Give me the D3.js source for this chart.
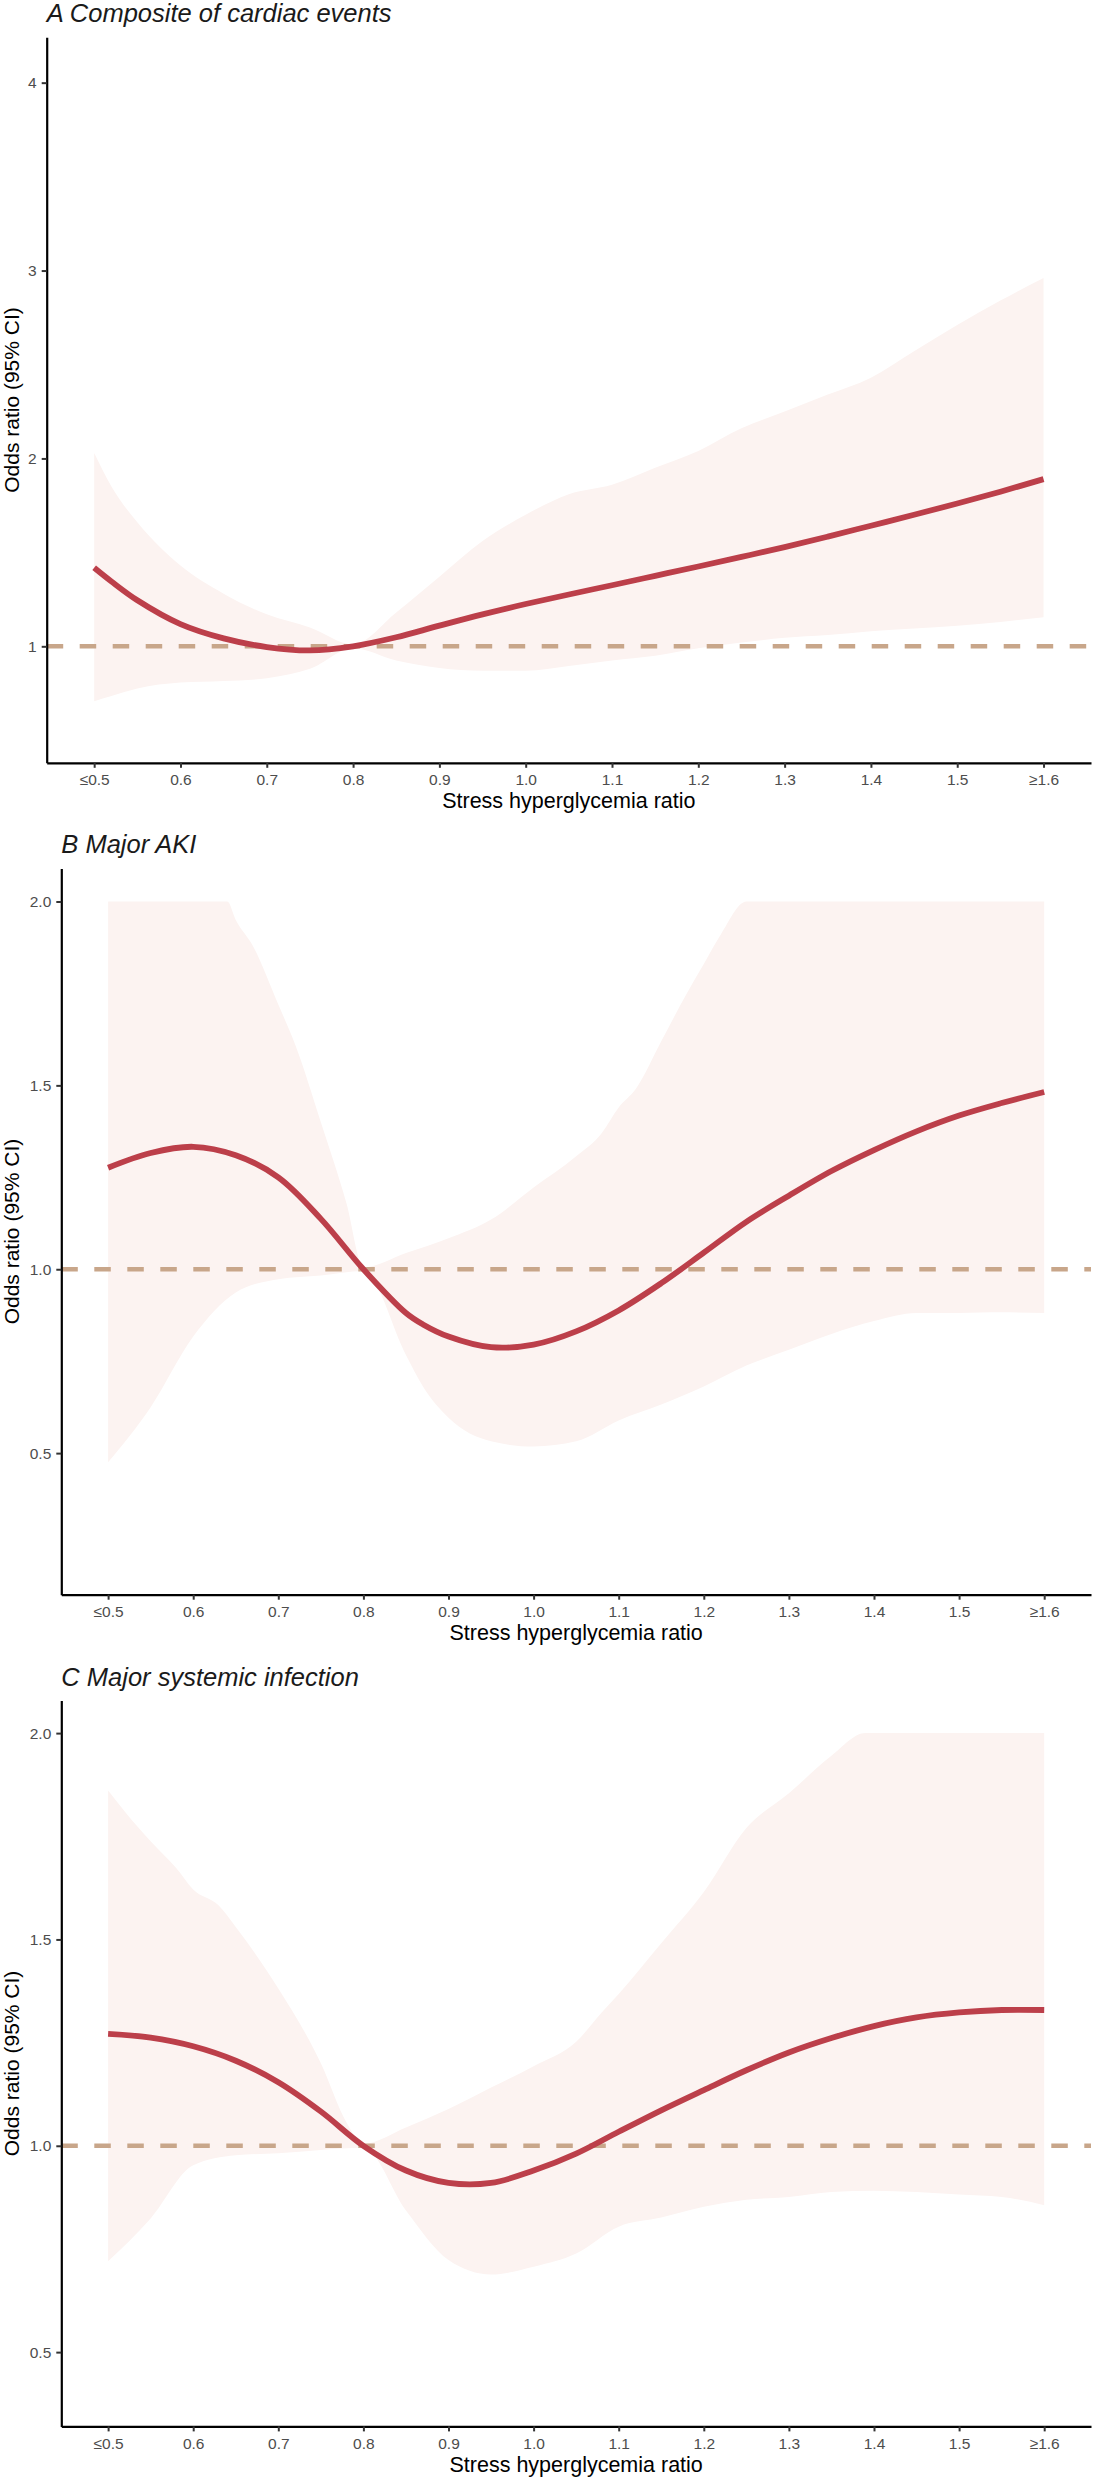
<!DOCTYPE html>
<html>
<head>
<meta charset="utf-8">
<script src="https://cdn.jsdelivr.net/npm/d3@7"></script>
<style>
  body { margin: 0; background: #ffffff; }
  text { font-family: "Liberation Sans", Arial, sans-serif; }
</style>
</head>
<body>
<svg id="chart"></svg>
<script>
// x axis (stress hyperglycemia ratio)
var xTicks = [0.5, 0.6, 0.7, 0.8, 0.9, 1.0, 1.1, 1.2, 1.3, 1.4, 1.5, 1.6]
var xTickLabels = ["≤0.5", "0.6", "0.7", "0.8", "0.9", "1.0", "1.1", "1.2", "1.3", "1.4", "1.5", "≥1.6"]

// A: composite of cardiac events
var cardiacX = [0.5, 0.52, 0.55, 0.6, 0.65, 0.7, 0.75, 0.8, 0.85, 0.9, 0.95, 1.0, 1.05, 1.1, 1.15, 1.2, 1.25, 1.3, 1.35, 1.4, 1.45, 1.5, 1.55, 1.6]
var cardiacOR = [1.418, 1.345, 1.245, 1.118, 1.042, 0.996, 0.978, 1.0, 1.048, 1.110, 1.170, 1.225, 1.276, 1.325, 1.375, 1.425, 1.476, 1.528, 1.584, 1.642, 1.700, 1.760, 1.823, 1.890]
var cardiacLow = [0.707, 0.735, 0.775, 0.807, 0.815, 0.83, 0.88, 0.99, 0.925, 0.885, 0.87, 0.87, 0.895, 0.925, 0.95, 0.99, 1.02, 1.045, 1.06, 1.08, 1.095, 1.11, 1.13, 1.155]
var cardiacUp = [2.029, 1.85, 1.66, 1.43, 1.28, 1.17, 1.10, 1.01, 1.18, 1.37, 1.56, 1.70, 1.81, 1.86, 1.95, 2.04, 2.16, 2.25, 2.34, 2.43, 2.57, 2.71, 2.84, 2.96]

// B: major AKI
var akiX = [0.5, 0.55, 0.6, 0.65, 0.7, 0.75, 0.8, 0.85, 0.87, 0.9, 0.95, 1.0, 1.05, 1.1, 1.15, 1.2, 1.25, 1.3, 1.35, 1.4, 1.45, 1.5, 1.55, 1.6]
var akiOR = [1.276, 1.316, 1.333, 1.310, 1.250, 1.137, 1.0, 0.881, 0.850, 0.817, 0.788, 0.795, 0.831, 0.888, 0.962, 1.045, 1.129, 1.200, 1.267, 1.324, 1.375, 1.418, 1.452, 1.482]
var akiLow = [0.475, 0.625, 0.817, 0.937, 0.973, 0.983, 0.995, 0.767, 0.681, 0.596, 0.532, 0.518, 0.532, 0.589, 0.632, 0.681, 0.738, 0.781, 0.824, 0.859, 0.881, 0.881, 0.883, 0.881]
var akiUpX = [0.5, 0.64, 0.65, 0.67, 0.7, 0.72, 0.75, 0.78, 0.8, 0.85, 0.9, 0.95, 1.0, 1.05, 1.08, 1.1, 1.12, 1.15, 1.18, 1.2, 1.22, 1.25, 1.6]
var akiUp = [2.0, 2.0, 1.95, 1.88, 1.72, 1.61, 1.40, 1.18, 1.005, 1.044, 1.084, 1.135, 1.222, 1.307, 1.37, 1.44, 1.49, 1.62, 1.75, 1.83, 1.91, 2.0, 2.0]

// C: major systemic infection
var infX = [0.5, 0.55, 0.6, 0.65, 0.7, 0.75, 0.8, 0.85, 0.9, 0.95, 1.0, 1.05, 1.1, 1.15, 1.2, 1.25, 1.3, 1.35, 1.4, 1.45, 1.5, 1.55, 1.6]
var infOR = [1.271, 1.262, 1.241, 1.206, 1.154, 1.083, 1.0, 0.940, 0.910, 0.910, 0.940, 0.981, 1.034, 1.086, 1.135, 1.183, 1.226, 1.261, 1.290, 1.311, 1.323, 1.329, 1.329]
var infLow = [0.720, 0.824, 0.953, 0.977, 0.982, 0.990, 0.995, 0.843, 0.723, 0.688, 0.707, 0.739, 0.804, 0.826, 0.852, 0.869, 0.876, 0.888, 0.891, 0.888, 0.882, 0.876, 0.856]
var infUpX = [0.5, 0.52, 0.55, 0.58, 0.6, 0.63, 0.65, 0.7, 0.75, 0.78, 0.8, 0.85, 0.9, 0.95, 1.0, 1.05, 1.08, 1.1, 1.15, 1.2, 1.25, 1.3, 1.35, 1.39, 1.6]
var infUp = [1.861, 1.809, 1.738, 1.673, 1.621, 1.582, 1.530, 1.381, 1.2, 1.057, 1.005, 1.044, 1.089, 1.141, 1.193, 1.252, 1.323, 1.368, 1.491, 1.615, 1.770, 1.854, 1.945, 2.0, 2.0]

var width = 1093, height = 2480
var plotRight = 1091
var lineColor = "#bc3f4a", ribbonColor = "#fcf3f1", refColor = "#c8a68a"

var panels = [
    { title: "A Composite of cardiac events", left: 46.7, top: 37.2, bottom: 762.8, yDomain: [0.380, 4.242],
      yTicks: [1, 2, 3, 4], yFormat: d3.format("d"),
      x: cardiacX, est: cardiacOR, low: cardiacLow, upX: cardiacX, up: cardiacUp },
    { title: "B Major AKI", left: 61.3, top: 868.4, bottom: 1594.7, yDomain: [0.115, 2.090],
      yTicks: [0.5, 1.0, 1.5, 2.0], yFormat: d3.format(".1f"),
      x: akiX, est: akiOR, low: akiLow, upX: akiUpX, up: akiUp },
    { title: "C Major systemic infection", left: 61.3, top: 1700.5, bottom: 2426.4, yDomain: [0.320, 2.079],
      yTicks: [0.5, 1.0, 1.5, 2.0], yFormat: d3.format(".1f"),
      x: infX, est: infOR, low: infLow, upX: infUpX, up: infUp }
]

var svg = d3.select("#chart")
    .attr("width", width)
    .attr("height", height)
    .attr("viewBox", [0, 0, width, height])

svg.append("rect").attr("width", width).attr("height", height).attr("fill", "#ffffff")

function drawPanel(p) {
    var xScale = d3.scaleLinear().domain([0.445, 1.655]).range([p.left, plotRight])
    var yScale = d3.scaleLinear().domain(p.yDomain).range([p.bottom, p.top])
    var g = svg.append("g")

    var band = d3.line()
        .x(d => xScale(d[0]))
        .y(d => yScale(d[1]))
        .curve(d3.curveMonotoneX)
    var smooth = d3.line()
        .x(d => xScale(d[0]))
        .y(d => yScale(d[1]))
        .curve(d3.curveCatmullRom.alpha(0.5))

    // ribbon: upper bound forward, lower bound back
    var upPts = p.upX.map((x, i) => [x, p.up[i]])
    var lowPts = p.x.map((x, i) => [x, p.low[i]]).reverse()
    var ribbon = band(upPts) + "L" + band(lowPts).slice(1) + "Z"
    g.append("path")
        .attr("d", ribbon)
        .attr("fill", ribbonColor)
        .attr("stroke", "none")

    // reference line at OR = 1
    g.append("line")
        .attr("x1", p.left).attr("x2", plotRight)
        .attr("y1", yScale(1)).attr("y2", yScale(1))
        .attr("stroke", refColor)
        .attr("stroke-width", 4.5)
        .attr("stroke-dasharray", "16.5,16.5")

    // estimate
    g.append("path")
        .datum(p.x.map((x, i) => [x, p.est[i]]))
        .attr("fill", "none")
        .attr("stroke", lineColor)
        .attr("stroke-width", 5.8)
        .attr("d", smooth)

    // axes
    var xAxis = g.append("g")
        .attr("transform", "translate(0," + p.bottom + ")")
        .call(d3.axisBottom(xScale)
            .tickValues(xTicks)
            .tickFormat((d, i) => xTickLabels[i])
            .tickSizeInner(5).tickSizeOuter(0).tickPadding(6.5))
    var yAxis = g.append("g")
        .attr("transform", "translate(" + p.left + ",0)")
        .call(d3.axisLeft(yScale)
            .tickValues(p.yTicks)
            .tickFormat(p.yFormat)
            .tickSizeInner(5).tickSizeOuter(0).tickPadding(5))
    ;[xAxis, yAxis].forEach(a => {
        a.attr("font-family", null).attr("font-size", null)
        a.select(".domain").attr("stroke", "#000000").attr("stroke-width", 2.2)
        a.selectAll(".tick line").attr("stroke", "#333333").attr("stroke-width", 2)
        a.selectAll(".tick text").attr("fill", "#4d4d4d").style("font-size", "15.5px")
    })

    // labels
    g.append("text")
        .attr("x", (p.left + plotRight) / 2)
        .attr("y", p.bottom + 45.5)
        .attr("text-anchor", "middle")
        .style("font-size", "21.5px")
        .attr("fill", "#000000")
        .text("Stress hyperglycemia ratio")
    g.append("text")
        .attr("transform", "rotate(-90)")
        .attr("x", -(p.top + p.bottom) / 2)
        .attr("y", 18.5)
        .attr("text-anchor", "middle")
        .style("font-size", "21px")
        .attr("fill", "#000000")
        .text("Odds ratio (95% CI)")
    g.append("text")
        .attr("x", p.left)
        .attr("y", p.top - 15)
        .style("font-size", "25.5px")
        .style("font-style", "italic")
        .attr("fill", "#1a1a1a")
        .text(p.title)
}

panels.forEach(drawPanel)
</script>
</body>
</html>
